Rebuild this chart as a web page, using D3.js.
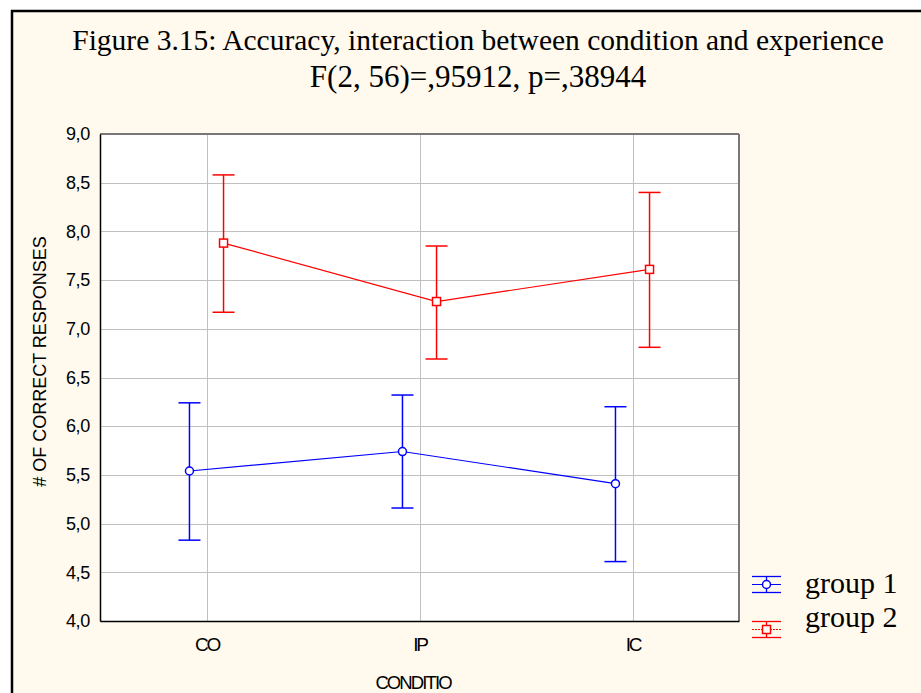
<!DOCTYPE html>
<html>
<head>
<meta charset="utf-8">
<script src="https://cdn.jsdelivr.net/npm/d3@7"></script>
<style>
  body { margin: 0; background: #fff; }
  svg { display: block; }
</style>
</head>
<body>
<div id="chart"></div>
<script>
// Chart data
const categories = ['CO', 'IP', 'IC'];
const group1Means = [5.54, 5.74, 5.41];
const group1Lower = [4.83, 5.16, 4.61];
const group1Upper = [6.24, 6.32, 6.20];
const group2Means = [7.88, 7.28, 7.61];
const group2Lower = [7.17, 6.69, 6.81];
const group2Upper = [8.58, 7.85, 8.40];
const yTicks = [4.0, 4.5, 5.0, 5.5, 6.0, 6.5, 7.0, 7.5, 8.0, 8.5, 9.0];
const seriesNames = ['group 1', 'group 2'];

const width = 921;
const height = 693;
const plot = { left: 100, right: 739, top: 134, bottom: 621 };

const svg = d3.select('#chart')
    .append('svg')
    .attr('width', width)
    .attr('height', height);

// Outer frame
svg.append('rect')
    .attr('x', 12).attr('y', 11)
    .attr('width', 940).attr('height', 720)
    .attr('fill', '#fff9ee')
    .attr('stroke', '#000')
    .attr('stroke-width', 2.5);

// Title
const title = svg.append('text')
    .attr('text-anchor', 'middle')
    .attr('font-family', 'Liberation Serif, Times New Roman, serif')
    .attr('font-size', 29.5)
    .attr('fill', '#000');
title.append('tspan').attr('x', 478).attr('y', 50)
    .text('Figure 3.15: Accuracy, interaction between condition and experience');
title.append('tspan').attr('x', 478).attr('y', 87)
    .attr('font-size', 31)
    .text('F(2, 56)=,95912, p=,38944');

// Scales
const x = d3.scaleLinear()
    .domain([-0.5, categories.length - 0.5])
    .range([plot.left, plot.right]);
const y = d3.scaleLinear()
    .domain([4, 9])
    .range([plot.bottom, plot.top]);
const offset = 0.08;

// Plot background
svg.append('rect')
    .attr('x', plot.left).attr('y', plot.top)
    .attr('width', plot.right - plot.left)
    .attr('height', plot.bottom - plot.top)
    .attr('fill', '#fff');

// Grid lines
svg.append('g')
    .selectAll('line')
    .data(yTicks)
    .enter()
    .append('line')
    .attr('x1', plot.left).attr('x2', plot.right)
    .attr('y1', d => Math.round(y(d)) + 0.5)
    .attr('y2', d => Math.round(y(d)) + 0.5)
    .attr('stroke', '#c0c0c0');

svg.append('g')
    .selectAll('line')
    .data(categories)
    .enter()
    .append('line')
    .attr('x1', (d, i) => Math.round(x(i)) + 0.5)
    .attr('x2', (d, i) => Math.round(x(i)) + 0.5)
    .attr('y1', plot.top).attr('y2', plot.bottom)
    .attr('stroke', '#c0c0c0');

// Frame of plot: top and right grey, left and bottom black
svg.append('line')
    .attr('x1', plot.left).attr('x2', plot.right)
    .attr('y1', plot.top).attr('y2', plot.top)
    .attr('stroke', '#777').attr('stroke-width', 2);
svg.append('line')
    .attr('x1', plot.right).attr('x2', plot.right)
    .attr('y1', plot.top).attr('y2', plot.bottom)
    .attr('stroke', '#777').attr('stroke-width', 2);

// Y axis
const yAxis = svg.append('g')
    .attr('transform', `translate(${plot.left},0)`)
    .call(d3.axisLeft(y)
        .tickValues(yTicks)
        .tickSize(0)
        .tickPadding(10)
        .tickFormat(d => d3.format('.1f')(d).replace('.', ',')));
yAxis.select('.domain').attr('stroke', '#000').attr('stroke-width', 1.5);
yAxis.selectAll('text')
    .attr('font-family', 'Liberation Sans, Arial, sans-serif')
    .attr('font-size', 18)
    .attr('letter-spacing', -0.3)
    .attr('fill', '#000');

// X axis
const xAxis = svg.append('g')
    .attr('transform', `translate(0,${plot.bottom})`)
    .call(d3.axisBottom(x)
        .tickValues(d3.range(categories.length))
        .tickSize(0)
        .tickPadding(17)
        .tickFormat(i => categories[i]));
xAxis.select('.domain').attr('stroke', '#000').attr('stroke-width', 1.5);
xAxis.selectAll('text')
    .attr('font-family', 'Liberation Sans, Arial, sans-serif')
    .attr('font-size', 19)
    .attr('letter-spacing', -2.2)
    .attr('fill', '#000');

// Axis titles
svg.append('text')
    .attr('transform', `translate(46,${(plot.top + plot.bottom) / 2 - 16}) rotate(-90)`)
    .attr('text-anchor', 'middle')
    .attr('font-family', 'Liberation Sans, Arial, sans-serif')
    .attr('font-size', 18)
    .text('# OF CORRECT RESPONSES');

svg.append('text')
    .attr('x', 413).attr('y', 689)
    .attr('text-anchor', 'middle')
    .attr('font-family', 'Liberation Sans, Arial, sans-serif')
    .attr('font-size', 18.5)
    .attr('letter-spacing', -1.9)
    .text('CONDITIO');

// Series
const series = [
    { name: seriesNames[0], color: '#0000ff', shape: 'circle', shift: -offset,
      values: categories.map((c, i) => ({ i, mean: group1Means[i], lo: group1Lower[i], hi: group1Upper[i] })) },
    { name: seriesNames[1], color: '#ff0000', shape: 'square', shift: offset,
      values: categories.map((c, i) => ({ i, mean: group2Means[i], lo: group2Lower[i], hi: group2Upper[i] })) }
];

const capHalf = 11;

series.forEach(s => {
    const g = svg.append('g');
    const px = d => x(d.i + s.shift);

    // Connecting line
    g.append('path')
        .datum(s.values)
        .attr('fill', 'none')
        .attr('stroke', s.color)
        .attr('stroke-width', 1.2)
        .attr('d', d3.line().x(px).y(d => y(d.mean)));

    // Error bars
    const bars = g.selectAll('.err')
        .data(s.values)
        .enter()
        .append('g')
        .attr('class', 'err');
    bars.append('line')
        .attr('x1', d => px(d)).attr('x2', d => px(d))
        .attr('y1', d => y(d.lo)).attr('y2', d => y(d.hi))
        .attr('stroke', s.color)
        .attr('stroke-width', 1.5);
    ['lo', 'hi'].forEach(k => {
        bars.append('line')
            .attr('x1', d => px(d) - capHalf).attr('x2', d => px(d) + capHalf)
            .attr('y1', d => y(d[k])).attr('y2', d => y(d[k]))
            .attr('stroke', s.color)
            .attr('stroke-width', 1.5);
    });

    // Markers
    if (s.shape === 'circle') {
        bars.append('circle')
            .attr('cx', d => px(d)).attr('cy', d => y(d.mean))
            .attr('r', 4)
            .attr('fill', '#fff')
            .attr('stroke', s.color)
            .attr('stroke-width', 1.5);
    } else {
        bars.append('rect')
            .attr('x', d => px(d) - 4).attr('y', d => y(d.mean) - 4)
            .attr('width', 8).attr('height', 8)
            .attr('fill', '#fff')
            .attr('stroke', s.color)
            .attr('stroke-width', 1.5);
    }
});

// Legend
const legend = svg.append('g');
const legendSymbolY = [584, 629];
const legendTextY = [593, 627];
series.forEach((s, k) => {
    const cy = legendSymbolY[k];
    const g = legend.append('g');
    [-8, 0, 8].forEach(dy => {
        g.append('line')
            .attr('x1', 752).attr('x2', 781)
            .attr('y1', cy + dy + 0.5).attr('y2', cy + dy + 0.5)
            .attr('stroke', s.color)
            .attr('stroke-width', dy === 0 ? 1 : 1.3)
            .attr('stroke-dasharray', dy === 0 && s.shape === 'square' ? '2,1' : null);
    });
    g.append('line')
        .attr('x1', 766.5).attr('x2', 766.5)
        .attr('y1', cy - 8).attr('y2', cy + 8)
        .attr('stroke', s.color)
        .attr('stroke-width', 1.3);
    if (s.shape === 'circle') {
        g.append('circle')
            .attr('cx', 766.5).attr('cy', cy + 0.5).attr('r', 4)
            .attr('fill', '#fff').attr('stroke', s.color).attr('stroke-width', 1.5);
    } else {
        g.append('rect')
            .attr('x', 762.5).attr('y', cy - 3.5).attr('width', 8).attr('height', 8)
            .attr('fill', '#fff').attr('stroke', s.color).attr('stroke-width', 1.5);
    }
    g.append('text')
        .attr('x', 805).attr('y', legendTextY[k])
        .attr('font-family', 'Liberation Serif, Times New Roman, serif')
        .attr('font-size', 30)
        .text(s.name);
});
</script>
</body>
</html>
